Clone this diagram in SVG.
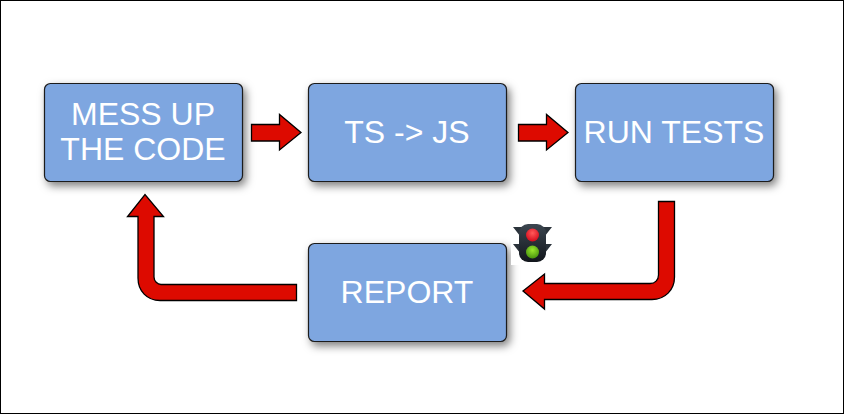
<svg xmlns="http://www.w3.org/2000/svg" width="844" height="414" viewBox="0 0 844 414">
<style>
.box{fill:#7ea6e0;stroke:#1a1a1a;stroke-width:1.2}
.lbl{font-family:"Liberation Sans",Arial,sans-serif;font-size:32px;fill:#fff;text-anchor:middle}
.arr{fill:#dd0a00;stroke:#000;stroke-width:1.3;stroke-linejoin:miter}
</style>
<defs>
<filter id="sh" x="-10%" y="-15%" width="125%" height="140%"><feDropShadow dx="3" dy="4" stdDeviation="4" flood-color="#000" flood-opacity="0.5"/></filter>
<radialGradient id="red" cx="0.5" cy="0.35" r="0.6"><stop offset="0" stop-color="#ff5a5a"/><stop offset="1" stop-color="#d81020"/></radialGradient>
<radialGradient id="grn" cx="0.5" cy="0.35" r="0.6"><stop offset="0" stop-color="#9be82c"/><stop offset="1" stop-color="#4e9a10"/></radialGradient>
<linearGradient id="body" x1="0" y1="0" x2="0" y2="1"><stop offset="0" stop-color="#3c4650"/><stop offset="1" stop-color="#12161c"/></linearGradient>
</defs>
<rect x="0.5" y="0.5" width="843" height="413" fill="#fff" stroke="#000"/>
<g id="node-mess"><rect class="box" x="44.5" y="83.5" width="198" height="98" rx="6" filter="url(#sh)"/><text class="lbl" x="143" y="125">MESS UP</text><text class="lbl" x="143" y="160">THE CODE</text></g>
<g id="node-ts"><rect class="box" x="308.5" y="83.5" width="198" height="98" rx="6" filter="url(#sh)"/><text class="lbl" x="407" y="143">TS -&gt; JS</text></g>
<g id="node-run"><rect class="box" x="575.5" y="83.5" width="198" height="98" rx="6" filter="url(#sh)"/><text class="lbl" x="674" y="143">RUN TESTS</text></g>
<g id="node-report"><rect class="box" x="308.5" y="243.500" width="198" height="98" rx="6" filter="url(#sh)"/><text class="lbl" x="407" y="303">REPORT</text></g>
<g id="connectors">
<path class="arr" d="M251.500 124.500H279.500V114.500L301 132.500L279.500 150V141H251.500Z"/>
<path class="arr" d="M518.500 124.500H546.500V114.500L568 132.500L546.500 150V141H518.500Z"/>
<path class="arr" d="M658.500 201.500H674.500V277C674.500 290 665 299.500 652 299.500H544.500V309L523 291L544.500 274V283.500H650C655 283.500 658.500 280 658.500 275Z"/>
<path class="arr" d="M296.500 284.500V300.500H160C147 300.500 138 291 138 278V216.500H127.500L145 194.500L163.500 216.500H154V277C154 281 157.500 284.500 161 284.500Z"/>
</g>
<g id="traffic-light">
<rect x="511" y="222" width="45" height="43" fill="#fff"/>
<path d="M513 227H524V241ZM552 227H541V241ZM513 244H524V258ZM552 244H541V258Z" fill="#2b333b"/>
<rect x="519" y="224" width="27" height="38" rx="9" fill="url(#body)"/>
<circle cx="532.500" cy="235" r="6.500" fill="url(#red)"/>
<circle cx="532.500" cy="252" r="6.500" fill="url(#grn)"/>
</g>
</svg>
